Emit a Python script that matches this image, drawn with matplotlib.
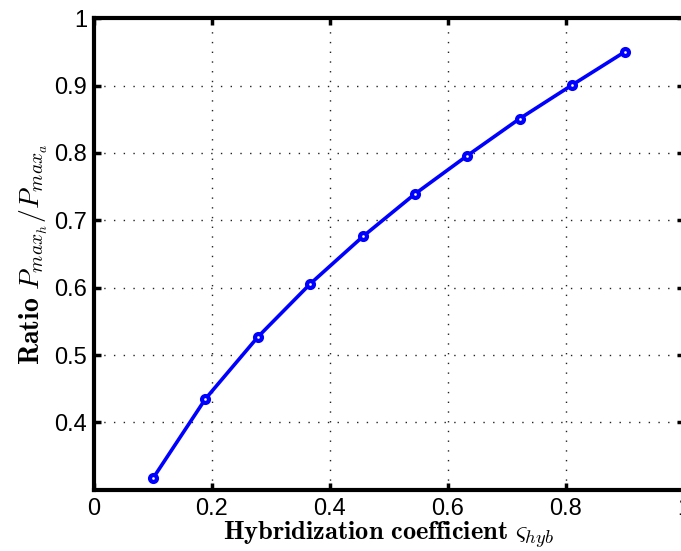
import matplotlib
matplotlib.use("Agg")
import matplotlib.pyplot as plt

plt.rcParams['font.family'] = ['Liberation Sans', 'DejaVu Sans']
plt.rcParams['mathtext.fontset'] = 'cm'

x_vals = [0.1, 0.189, 0.278, 0.367, 0.456, 0.544, 0.633, 0.722, 0.811, 0.9]
ratio = [0.317, 0.435, 0.527, 0.606, 0.676, 0.739, 0.796, 0.851, 0.901, 0.950]
xticks = [0, 0.2, 0.4, 0.6, 0.8, 1.0]
xticklabels = ['0', '0.2', '0.4', '0.6', '0.8', '1']
yticks = [0.4, 0.5, 0.6, 0.7, 0.8, 0.9, 1.0]
yticklabels = ['0.4', '0.5', '0.6', '0.7', '0.8', '0.9', '1']

fig = plt.figure(figsize=(6.81, 5.51), dpi=100)
ax = fig.add_axes([0.138, 0.111, 0.866, 0.856])

ax.plot(x_vals, ratio, color='#0000ff', linewidth=2.6, marker='o',
        markersize=5, markerfacecolor='white', markeredgewidth=3.0,
        markeredgecolor='#0000ff', clip_on=False, zorder=3)

ax.set_xlim(0, 1)
ax.set_ylim(0.3, 1)
ax.set_xticks(xticks)
ax.set_xticklabels(xticklabels)
ax.set_yticks(yticks)
ax.set_yticklabels(yticklabels)

ax.grid(True, color='#222222', linestyle=(0, (1, 6)), linewidth=1.0)
for s in ax.spines.values():
    s.set_linewidth(3.0)
ax.tick_params(direction='in', length=5, width=2.5, labelsize=17,
               top=True, right=True)
ax.tick_params(axis='y', pad=5)
ax.tick_params(axis='x', pad=6)

ax.set_xlabel(r'$\mathbf{Hybridization\ coefficient}\ \varsigma_{hyb}$', fontsize=19, labelpad=-1)
ax.set_ylabel(r'$\mathbf{Ratio}\ P_{max_h}/P_{max_a}$', fontsize=20, labelpad=3)

fig.savefig('out.png', dpi=100)
